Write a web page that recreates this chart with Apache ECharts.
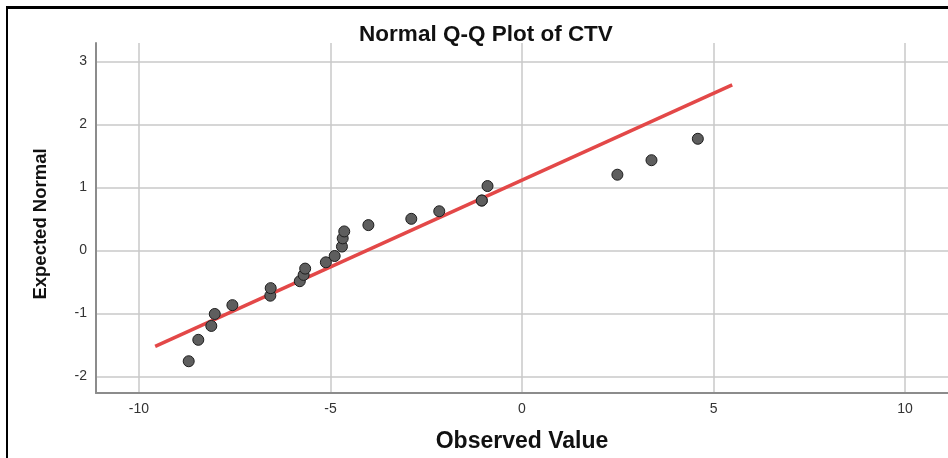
<!DOCTYPE html>
<html>
<head>
<meta charset="utf-8">
<script src="https://cdn.jsdelivr.net/npm/echarts@6/dist/echarts.min.js"></script>
<style>
  html, body { margin: 0; padding: 0; background: #fff; overflow: hidden; }
  #chart { position: absolute; left: 0; top: 0; width: 948px; height: 458px; }
  #frame { position: absolute; left: 6px; top: 6px; width: 960px; height: 470px;
           border-top: 3px solid #000; border-left: 2px solid #000; pointer-events: none; z-index: 2; }
</style>
</head>
<body>
<div id="chart"></div>
<div id="frame"></div>
<script>
const observed = [-8.70, -8.45, -8.11, -8.02, -7.56, -6.57, -6.56, -5.80, -5.70, -5.66,
                  -5.12, -4.89, -4.70, -4.68, -4.64, -4.01, -2.89, -2.16, -1.05, -1.05,
                  -0.90, 2.49, 3.38, 4.59];
const expected = [-1.76, -1.42, -1.20, -1.01, -0.87, -0.72, -0.60, -0.49, -0.39, -0.29,
                  -0.19, -0.09, 0.06, 0.19, 0.30, 0.40, 0.50, 0.62, 0.79, 0.79,
                  1.02, 1.20, 1.43, 1.77];
// Reference line end points
const lineX = [-9.575, 5.487];
const lineY = [-1.525, 2.625];

const xRange = [-11.12, 11.12];
const yRange = [-2.264, 3.29];

const FONT = "'Liberation Sans', Arial, sans-serif";

const chart = echarts.init(document.getElementById('chart'), null, { renderer: 'canvas' });
chart.setOption({
  animation: false,
  backgroundColor: '#ffffff',
  title: {
    text: 'Normal Q-Q Plot of CTV',
    left: 481,
    top: 18,
    textAlign: 'center',
    textStyle: { fontFamily: FONT, fontSize: 22.5, fontWeight: 'bold', color: '#111' }
  },
  grid: { left: 96, top: 43, right: -5, bottom: 64, containLabel: false },
  xAxis: {
    type: 'value',
    min: xRange[0], max: xRange[1],
    minInterval: 5, maxInterval: 5,
    name: 'Observed Value',
    nameLocation: 'middle',
    nameGap: 37,
    nameTextStyle: { fontFamily: FONT, fontSize: 23, fontWeight: 'bold', color: '#111' },
    axisLine: { show: true, onZero: false, lineStyle: { color: '#8c8c8c', width: 2 } },
    axisTick: { show: false },
    axisLabel: { fontFamily: FONT, fontSize: 14, color: '#333', margin: 9,
                 showMinLabel: false, showMaxLabel: false },
    splitLine: { show: true, showMinLine: false, showMaxLine: false,
                 lineStyle: { color: '#c9c9c9', width: 1.5 } }
  },
  yAxis: {
    type: 'value',
    min: yRange[0], max: yRange[1],
    minInterval: 1, maxInterval: 1,
    name: 'Expected Normal',
    nameLocation: 'middle',
    nameGap: 46,
    nameRotate: 90,
    nameTextStyle: { fontFamily: FONT, fontSize: 18.5, fontWeight: 'bold', color: '#111',
                     padding: [0, 12, 0, 0] },
    axisLine: { show: true, onZero: false, lineStyle: { color: '#8c8c8c', width: 2 } },
    axisTick: { show: false },
    axisLabel: { fontFamily: FONT, fontSize: 14, color: '#333', margin: 9,
                 showMinLabel: false, showMaxLabel: false },
    splitLine: { show: true, showMinLine: false, showMaxLine: false,
                 lineStyle: { color: '#c9c9c9', width: 1.5 } }
  },
  series: [
    {
      type: 'line',
      data: lineX.map((x, i) => [x, lineY[i]]),
      symbol: 'none',
      lineStyle: { color: '#e34848', width: 3.5 },
      z: 2
    },
    {
      type: 'scatter',
      data: observed.map((x, i) => [x, expected[i]]),
      symbol: 'circle',
      symbolSize: 11,
      itemStyle: { color: '#5e5e5e', borderColor: '#1e1e1e', borderWidth: 1, opacity: 1 },
      z: 3
    }
  ]
});
</script>
</body>
</html>
